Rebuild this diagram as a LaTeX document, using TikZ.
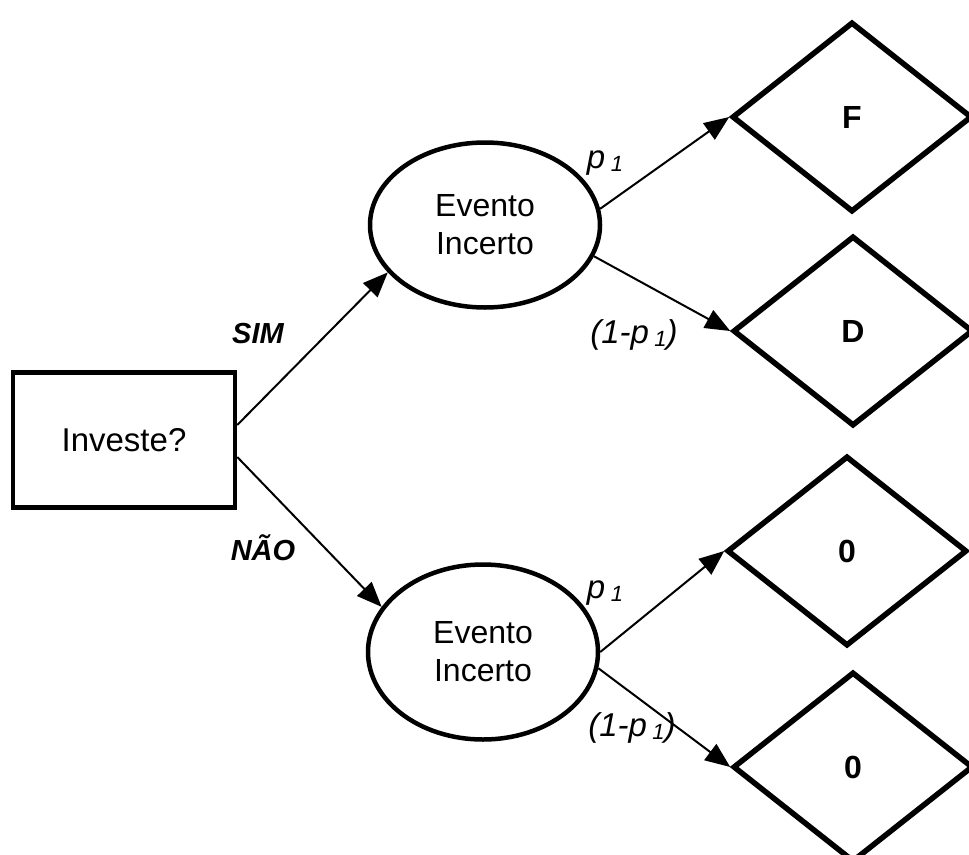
\documentclass[tikz,border=0pt]{standalone}
\usepackage{fontspec}
\setmainfont{Liberation Sans}
\usetikzlibrary{shapes.geometric,arrows.meta}
\tikzset{
  dec/.style={draw, line width=4.5pt, rectangle, minimum width=222pt, minimum height=135pt, inner sep=0pt, font=\fontsize{33}{38}\selectfont},
  chance/.style={draw, line width=4.5pt, ellipse, minimum width=230pt, inner sep=0pt, align=center, font=\fontsize{32}{38}\selectfont},
  outc/.style={draw, line width=5.5pt, diamond, minimum width=240pt, minimum height=190pt, inner sep=0pt, font=\bfseries\fontsize{32}{38}\selectfont},
  conn/.style={line width=2pt, -{Triangle[length=25pt,width=20pt]}},
  lab/.style={inner sep=0pt, font=\bfseries\itshape\fontsize{29}{34}\selectfont},
  plab/.style={inner sep=0pt, font=\itshape\fontsize{33}{38}\selectfont}
}
\newcommand{\pone}{p\,\raisebox{-3pt}{\fontsize{22}{24}\selectfont 1}}
\begin{document}
\begin{tikzpicture}[x=1pt,y=-1pt]
\useasboundingbox (0,0) rectangle (969,854);
\clip (0,0) rectangle (969,854);
\fill[white] (0,0) rectangle (969,854);
\node[dec] (inv) at (124,440) {Investe?};
\node[chance, minimum height=165pt] (e1) at (485,225) {Evento\\Incerto};
\node[chance, minimum height=175pt] (e2) at (483,652) {Evento\\Incerto};
\node[outc] (dF) at (852,117) {F};
\node[outc] (dD) at (853,331) {D};
\node[outc] (dZa) at (847,551) {0};
\node[outc] (dZb) at (853,767) {0};
\draw[conn] ([yshift=15pt]inv.east) -- (e1.206);
\draw[conn] ([yshift=-17pt]inv.east) -- (e2.156);
\draw[conn] (e1.8) -- (dF.west);
\draw[conn] (e1.344) -- (dD.west);
\draw[conn] (e2.0) -- (dZa.west);
\draw[conn] (e2.352) -- (dZb.west);
\node[lab] (sim) at (258,334) {SIM};
\node[lab] (nao) at (263,548) {NÃO};
\node[plab] (p1a) at (605,163) {\pone};
\node[plab] (q1a) at (634,335) {(1-\pone)};
\node[plab] (p1b) at (605,593) {\pone};
\node[plab] (q1b) at (632,728) {(1-\pone)};
\end{tikzpicture}
\end{document}
